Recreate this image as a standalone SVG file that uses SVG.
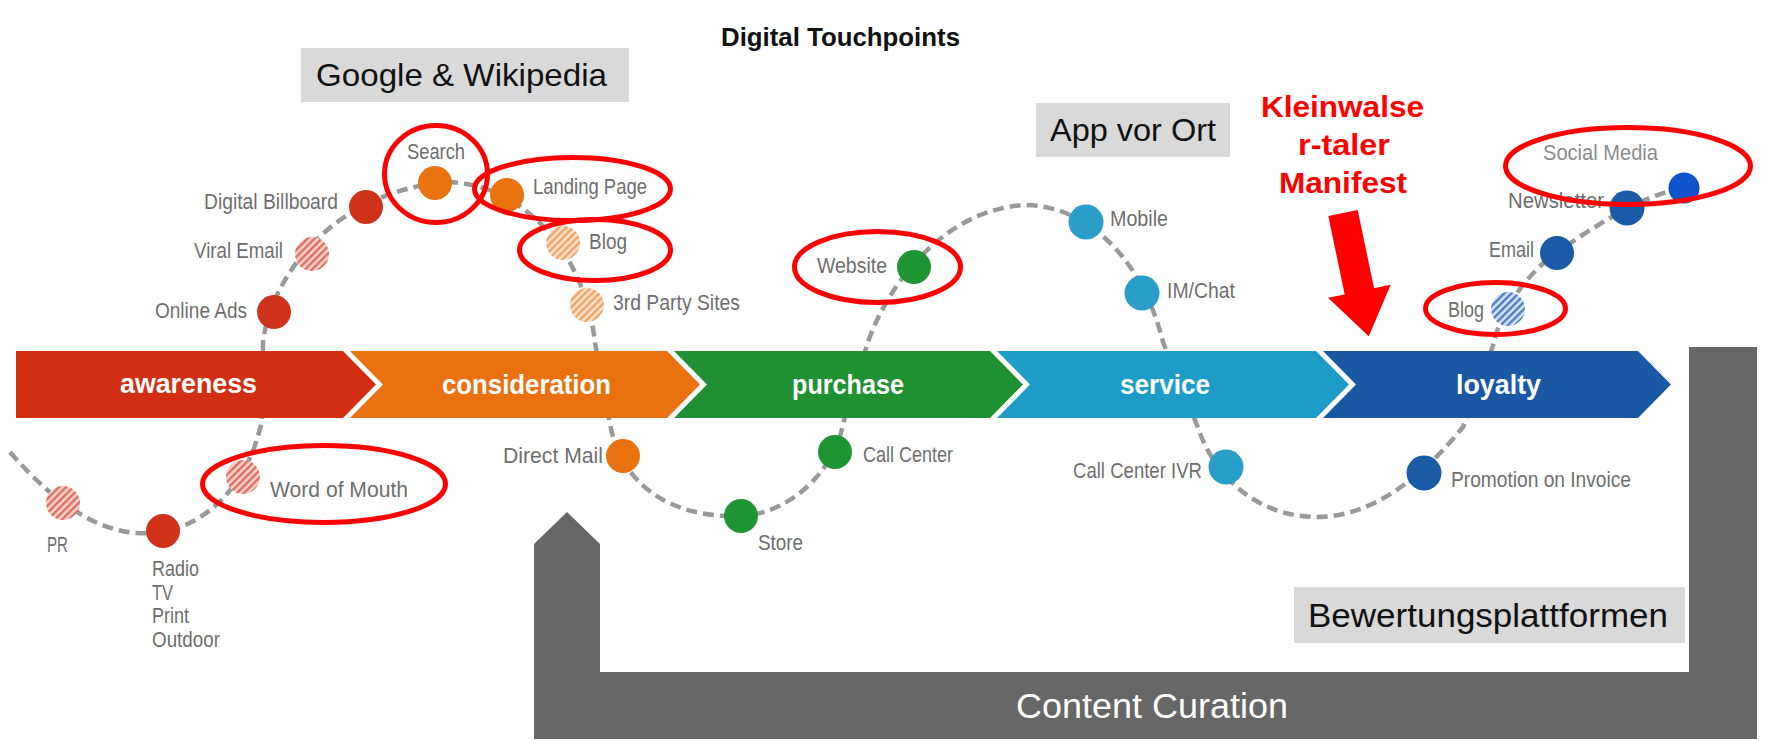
<svg xmlns="http://www.w3.org/2000/svg" width="1766" height="741" viewBox="0 0 1766 741">
<defs>
<style>
.lbl{font-family:"Liberation Sans",Arial,sans-serif;font-size:22px;fill:#6e6e6e}
.band{font-family:"Liberation Sans",Arial,sans-serif;font-size:27px;font-weight:bold;fill:#ffffff}
.box{fill:#d9d9d9}
.boxt{font-family:"Liberation Sans",Arial,sans-serif;fill:#111111}
.ring{fill:none;stroke:#ff0000;stroke-width:5}
.wave{fill:none;stroke:#999999;stroke-width:4.5;stroke-dasharray:11 6}
.red{fill:#cf3219}
.org{fill:#e9730f}
.grn{fill:#1f9433}
.lbu{fill:#2a9dc9}
.dbu{fill:#1b5aa5}
.kw{font-family:"Liberation Sans",Arial,sans-serif;font-size:30px;font-weight:bold;fill:#ff0000}
</style>
<pattern id="hatchRed" width="5" height="5" patternUnits="userSpaceOnUse" patternTransform="rotate(-45)">
<rect width="5" height="5" fill="#f7d5cf"/><rect width="5" height="2.4" fill="#e06c5b"/>
</pattern>
<pattern id="hatchOrg" width="5" height="5" patternUnits="userSpaceOnUse" patternTransform="rotate(-45)">
<rect width="5" height="5" fill="#fbe2cc"/><rect width="5" height="2.4" fill="#f0a262"/>
</pattern>
<pattern id="hatchBlu" width="5" height="5" patternUnits="userSpaceOnUse" patternTransform="rotate(-45)">
<rect width="5" height="5" fill="#d8e4f3"/><rect width="5" height="2.4" fill="#4a7fc5"/>
</pattern>
</defs>
<rect width="1766" height="741" fill="#ffffff"/>

<g id="connectors">
<path class="wave" d="M10,452 C60,510 110,540 160,532 C210,525 250,480 262,420 L263,343 C268,290 320,195 445,182 C520,182 585,250 595,343 L610,424 C625,500 690,518 741,516 C790,514 835,470 843,424 L867,345 C885,290 940,210 1025,205 C1080,205 1140,250 1163,342 L1197,425 C1215,480 1260,517 1317,517 C1370,517 1420,480 1463,427 L1494,343 C1500,310 1530,270 1560,250 C1590,230 1640,195 1684,188"/>
</g>

<text x="721" y="46" font-family="'Liberation Sans',Arial,sans-serif" font-size="26" font-weight="bold" fill="#111" textLength="239" lengthAdjust="spacingAndGlyphs">Digital Touchpoints</text>

<g id="stages">
<g id="stage-awareness"><path d="M16,351 H343 L376,384.5 L343,418 H16 Z" fill="#d22e12"/><text class="band" x="120" y="393" textLength="137" lengthAdjust="spacingAndGlyphs">awareness</text></g>
<g id="stage-consideration"><path d="M350,351 H667 L700,384.5 L667,418 H350 L383,384.5 Z" fill="#ea7110"/><text class="band" x="442" y="394" textLength="169" lengthAdjust="spacingAndGlyphs">consideration</text></g>
<g id="stage-purchase"><path d="M674,351 H990 L1023,384.5 L990,418 H674 L707,384.5 Z" fill="#1f9132"/><text class="band" x="792" y="394" textLength="112" lengthAdjust="spacingAndGlyphs">purchase</text></g>
<g id="stage-service"><path d="M997,351 H1316 L1349,384.5 L1316,418 H997 L1030,384.5 Z" fill="#1e9cc8"/><text class="band" x="1120" y="394" textLength="90" lengthAdjust="spacingAndGlyphs">service</text></g>
<g id="stage-loyalty"><path d="M1323,351 H1638 L1671,384.5 L1638,418 H1323 L1356,384.5 Z" fill="#1b58a3"/><text class="band" x="1456" y="394" textLength="85" lengthAdjust="spacingAndGlyphs">loyalty</text></g>
</g>

<g id="node-pr"><circle cx="63" cy="503" r="17" fill="url(#hatchRed)"/><text class="lbl" x="47" y="552" textLength="21" lengthAdjust="spacingAndGlyphs">PR</text></g>
<g id="node-radio"><circle class="red" cx="163" cy="531" r="17"/>
<text class="lbl" x="152" y="576" textLength="47" lengthAdjust="spacingAndGlyphs">Radio</text>
<text class="lbl" x="152" y="600" textLength="21" lengthAdjust="spacingAndGlyphs">TV</text>
<text class="lbl" x="152" y="623" textLength="37" lengthAdjust="spacingAndGlyphs">Print</text>
<text class="lbl" x="152" y="647" textLength="68" lengthAdjust="spacingAndGlyphs">Outdoor</text></g>
<g id="node-word-of-mouth"><circle cx="243" cy="477" r="17" fill="url(#hatchRed)"/><text class="lbl" x="270" y="497" textLength="138" lengthAdjust="spacingAndGlyphs">Word of Mouth</text></g>
<g id="node-online-ads"><circle class="red" cx="274" cy="312" r="17"/><text class="lbl" x="155" y="318" textLength="92" lengthAdjust="spacingAndGlyphs">Online Ads</text></g>
<g id="node-viral-email"><circle cx="312" cy="254" r="17" fill="url(#hatchRed)"/><text class="lbl" x="194" y="258" textLength="89" lengthAdjust="spacingAndGlyphs">Viral Email</text></g>
<g id="node-digital-billboard"><circle class="red" cx="366" cy="207" r="17"/><text class="lbl" x="204" y="209" textLength="134" lengthAdjust="spacingAndGlyphs">Digital Billboard</text></g>
<g id="node-search"><circle class="org" cx="435" cy="183" r="17"/><text class="lbl" x="407" y="159" textLength="58" lengthAdjust="spacingAndGlyphs">Search</text></g>
<g id="node-landing-page"><circle class="org" cx="507" cy="195" r="17"/><text class="lbl" x="533" y="194" textLength="114" lengthAdjust="spacingAndGlyphs">Landing Page</text></g>
<g id="node-blog-1"><circle cx="563" cy="243" r="17" fill="url(#hatchOrg)"/><text class="lbl" x="589" y="249" textLength="38" lengthAdjust="spacingAndGlyphs">Blog</text></g>
<g id="node-3rd-party"><circle cx="587" cy="305" r="17" fill="url(#hatchOrg)"/><text class="lbl" x="613" y="310" textLength="127" lengthAdjust="spacingAndGlyphs">3rd Party Sites</text></g>
<g id="node-direct-mail"><circle class="org" cx="623" cy="456" r="17"/><text class="lbl" x="503" y="463" textLength="100" lengthAdjust="spacingAndGlyphs">Direct Mail</text></g>
<g id="node-store"><circle class="grn" cx="741" cy="516" r="17"/><text class="lbl" x="758" y="550" textLength="45" lengthAdjust="spacingAndGlyphs">Store</text></g>
<g id="node-call-center"><circle class="grn" cx="835" cy="452" r="17"/><text class="lbl" x="863" y="462" textLength="90" lengthAdjust="spacingAndGlyphs">Call Center</text></g>
<g id="node-website"><circle class="grn" cx="914" cy="267" r="17"/><text class="lbl" x="817" y="273" textLength="70" lengthAdjust="spacingAndGlyphs">Website</text></g>
<g id="node-mobile"><circle class="lbu" cx="1086" cy="222" r="17.5"/><text class="lbl" x="1110" y="226" textLength="58" lengthAdjust="spacingAndGlyphs">Mobile</text></g>
<g id="node-im-chat"><circle class="lbu" cx="1142" cy="293" r="17.5"/><text class="lbl" x="1167" y="298" textLength="68" lengthAdjust="spacingAndGlyphs">IM/Chat</text></g>
<g id="node-call-center-ivr"><circle class="lbu" cx="1226" cy="467" r="17.5"/><text class="lbl" x="1073" y="478" textLength="129" lengthAdjust="spacingAndGlyphs">Call Center IVR</text></g>
<g id="node-promotion"><circle class="dbu" cx="1424" cy="473" r="17.5"/><text class="lbl" x="1451" y="487" textLength="180" lengthAdjust="spacingAndGlyphs">Promotion on Invoice</text></g>
<g id="node-blog-2"><circle cx="1508" cy="309" r="17" fill="url(#hatchBlu)"/><text class="lbl" x="1448" y="317" textLength="36" lengthAdjust="spacingAndGlyphs">Blog</text></g>
<g id="node-email"><circle class="dbu" cx="1557" cy="253" r="17"/><text class="lbl" x="1489" y="257" textLength="45" lengthAdjust="spacingAndGlyphs">Email</text></g>
<g id="node-newsletter"><text class="lbl" x="1508" y="208" textLength="96" lengthAdjust="spacingAndGlyphs">Newsletter</text><circle class="dbu" cx="1627" cy="208" r="17.5"/></g>
<g id="node-social-media"><circle cx="1684" cy="188" r="15.5" fill="#0e52cc"/><text class="lbl" x="1543" y="160" textLength="115" lengthAdjust="spacingAndGlyphs" style="fill:#8c8c8c">Social Media</text></g>

<g id="box-google"><rect class="box" x="301" y="48" width="328" height="54"/><text class="boxt" x="316" y="86" font-size="32" textLength="291" lengthAdjust="spacingAndGlyphs">Google &amp; Wikipedia</text></g>
<g id="box-app"><rect class="box" x="1036" y="103" width="194" height="54"/><text class="boxt" x="1050" y="141" font-size="32" textLength="166" lengthAdjust="spacingAndGlyphs">App vor Ort</text></g>
<g id="box-bewertung"><rect class="box" x="1294" y="587" width="391" height="56"/><text class="boxt" x="1308" y="627" font-size="33" textLength="360" lengthAdjust="spacingAndGlyphs">Bewertungsplattformen</text></g>

<g id="highlights">
<ellipse class="ring" cx="436" cy="174" rx="51.5" ry="48.5"/>
<ellipse class="ring" cx="572.5" cy="189" rx="98" ry="31.5"/>
<ellipse class="ring" cx="595" cy="250" rx="75.5" ry="30.5"/>
<ellipse class="ring" cx="324" cy="484" rx="121.5" ry="38.5"/>
<ellipse class="ring" cx="877.5" cy="267" rx="83" ry="35.5"/>
<ellipse class="ring" cx="1495.5" cy="308.5" rx="70" ry="26"/>
<ellipse class="ring" cx="1628" cy="166" rx="122.5" ry="38.5"/>
</g>

<g id="content-curation">
<polygon points="567,512 600,544 600,672 1689,672 1689,347 1757,347 1757,739 534,739 534,544" fill="#676767"/>
<text x="1016" y="718" font-family="'Liberation Sans',Arial,sans-serif" font-size="35" fill="#ffffff" textLength="272" lengthAdjust="spacingAndGlyphs">Content Curation</text>
</g>

<g id="kleinwalse">
<text class="kw" x="1261" y="117" textLength="163" lengthAdjust="spacingAndGlyphs">Kleinwalse</text>
<text class="kw" x="1298" y="155" textLength="92" lengthAdjust="spacingAndGlyphs">r-taler</text>
<text class="kw" x="1279" y="193" textLength="128" lengthAdjust="spacingAndGlyphs">Manifest</text>
<polygon transform="translate(1343,213) rotate(-11.8)" points="-15,0 15,0 15,80 32,80 0,126 -32,80 -15,80" fill="#ff0000"/>
</g>
</svg>
